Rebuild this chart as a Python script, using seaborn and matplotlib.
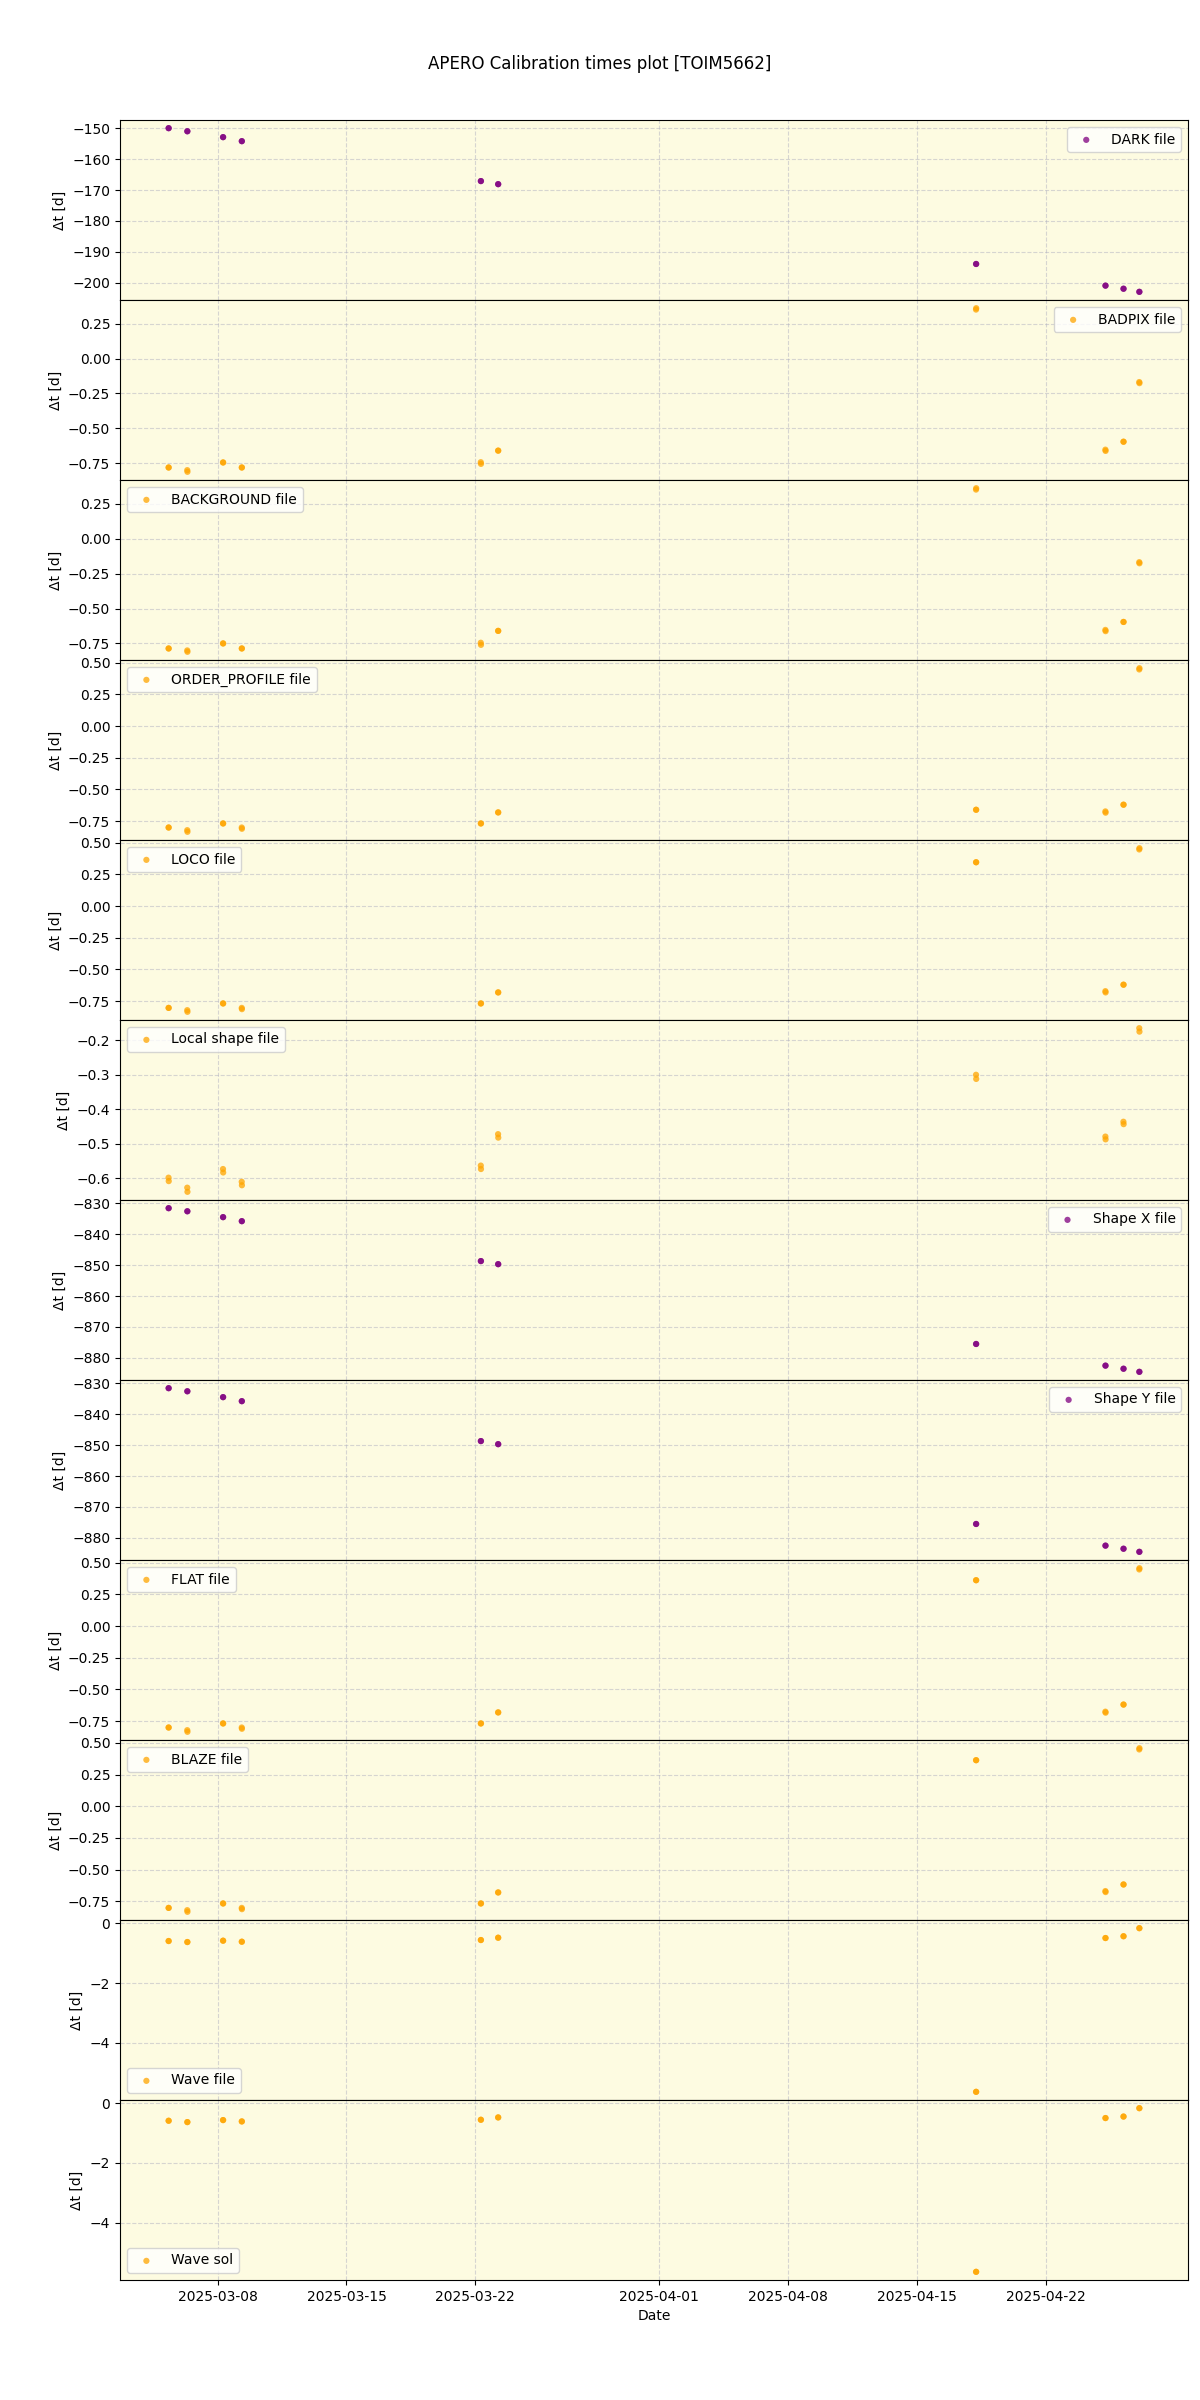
import numpy as np
import pandas as pd
import matplotlib
matplotlib.use("Agg")
import matplotlib.pyplot as plt
import seaborn as sns

# observation times (two exposures per night)
obs_times = [
    "2025-03-05 08:00", "2025-03-05 08:15",
    "2025-03-06 08:24", "2025-03-06 08:39",
    "2025-03-08 07:00", "2025-03-08 07:15",
    "2025-03-09 07:26", "2025-03-09 07:41",
    "2025-03-22 07:12", "2025-03-22 07:27",
    "2025-03-23 05:45", "2025-03-23 06:00",
    "2025-04-18 05:02", "2025-04-18 05:17",
    "2025-04-25 05:45", "2025-04-25 06:00",
    "2025-04-26 05:16", "2025-04-26 05:31",
    "2025-04-27 01:55", "2025-04-27 02:10",
]

dark = [-150.0, -150.0, -151.0, -151.0, -152.9, -152.9, -154.2, -154.2, -167.1, -167.1,
        -168.1, -168.1, -193.9, -193.9, -200.9, -200.9, -201.9, -201.9, -202.9, -202.9]
badpix = [-0.781, -0.781, -0.800, -0.812, -0.745, -0.745, -0.781, -0.781, -0.743, -0.755,
          -0.660, -0.660, 0.352, 0.362, -0.653, -0.662, -0.596, -0.596, -0.168, -0.176]
background = [-0.786, -0.786, -0.800, -0.810, -0.750, -0.750, -0.786, -0.786, -0.745, -0.760,
              -0.660, -0.660, 0.352, 0.362, -0.653, -0.662, -0.596, -0.596, -0.168, -0.176]
order_profile = [-0.800, -0.800, -0.821, -0.834, -0.768, -0.768, -0.800, -0.810, -0.768, -0.768,
                 -0.681, -0.681, -0.660, -0.660, -0.673, -0.683, -0.620, -0.620, 0.447, 0.457]
loco = [-0.803, -0.803, -0.821, -0.834, -0.768, -0.768, -0.803, -0.813, -0.768, -0.768,
        -0.681, -0.681, 0.346, 0.346, -0.671, -0.681, -0.620, -0.620, 0.447, 0.457]
local_shape = [-0.598, -0.608, -0.627, -0.639, -0.573, -0.583, -0.610, -0.620, -0.563, -0.573,
               -0.472, -0.482, -0.300, -0.312, -0.479, -0.487, -0.436, -0.443, -0.165, -0.175]
shape_x = [-831.6, -831.6, -832.6, -832.6, -834.5, -834.5, -835.8, -835.8, -848.7, -848.7,
           -849.7, -849.7, -875.5, -875.5, -882.5, -882.5, -883.5, -883.5, -884.5, -884.5]
shape_y = [-831.6, -831.6, -832.6, -832.6, -834.5, -834.5, -835.8, -835.8, -848.7, -848.7,
           -849.7, -849.7, -875.5, -875.5, -882.5, -882.5, -883.5, -883.5, -884.5, -884.5]
flat = [-0.800, -0.800, -0.821, -0.834, -0.768, -0.768, -0.800, -0.810, -0.768, -0.768,
        -0.681, -0.681, 0.362, 0.362, -0.675, -0.683, -0.619, -0.619, 0.447, 0.457]
blaze = [-0.803, -0.803, -0.821, -0.834, -0.768, -0.768, -0.803, -0.813, -0.768, -0.768,
         -0.681, -0.681, 0.364, 0.364, -0.670, -0.678, -0.618, -0.618, 0.449, 0.459]
wave_file = [-0.590, -0.590, -0.624, -0.624, -0.579, -0.579, -0.613, -0.613, -0.557, -0.557,
             -0.479, -0.479, -5.64, -5.64, -0.49, -0.49, -0.43, -0.43, -0.16, -0.16]
wave_sol = [-0.590, -0.590, -0.635, -0.635, -0.568, -0.568, -0.613, -0.613, -0.557, -0.557,
            -0.479, -0.479, -5.64, -5.64, -0.50, -0.50, -0.45, -0.45, -0.17, -0.17]

labels = ["DARK file", "BADPIX file", "BACKGROUND file", "ORDER_PROFILE file", "LOCO file",
          "Local shape file", "Shape X file", "Shape Y file", "FLAT file", "BLAZE file",
          "Wave file", "Wave sol"]
series = [dark, badpix, background, order_profile, loco, local_shape, shape_x, shape_y,
          flat, blaze, wave_file, wave_sol]
colors = ["purple", "orange", "orange", "orange", "orange", "orange", "purple", "purple",
          "orange", "orange", "orange", "orange"]
legend_locs = ["upper right", "upper right", "upper left", "upper left", "upper left",
               "upper left", "upper right", "upper right", "upper left", "upper left",
               "lower left", "lower left"]

dates = pd.to_datetime(obs_times)

fig, axes = plt.subplots(len(series), 1, figsize=(12, 24), sharex=True)
fig.subplots_adjust(left=0.1, right=0.99, top=0.95, bottom=0.05, hspace=0)
fig.suptitle("APERO Calibration times plot [TOIM5662]", y=0.977, fontsize=12)

for ax, vals, lab, col, loc in zip(axes, series, labels, colors, legend_locs):
    ax.set_facecolor("#fdfbe1")
    sns.scatterplot(x=dates, y=vals, ax=ax, color=col, alpha=0.75, s=20,
                    edgecolor="none", label=lab)
    ax.grid(True, linestyle="--", color="#b0b0c0", alpha=0.5)
    ax.set_axisbelow(True)
    ax.set_ylabel("\u0394t [d]")
    ax.legend(loc=loc)

axes[-1].set_xlabel("Date")

fig.savefig("out.png", dpi=100)
